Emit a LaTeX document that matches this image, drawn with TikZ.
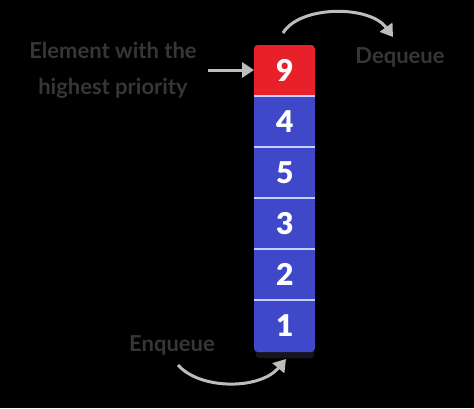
\documentclass[tikz,border=0pt]{standalone}
\usepackage{fontspec}
\setmainfont{Lato}
\newfontfamily\digitfont{Lato Black}
\usetikzlibrary{arrows.meta}
\definecolor{cred}{HTML}{E8202A}
\definecolor{cblue}{HTML}{3F48C8}
\definecolor{csep}{HTML}{C8D0FF}
\definecolor{clabel}{HTML}{363636}
\definecolor{carrow}{HTML}{BDBDBD}
\definecolor{cshadow}{HTML}{14161C}
\tikzset{
  cell/.style={minimum width=61pt, minimum height=51pt, inner sep=0pt, text=white,
     font=\fontsize{30}{30}\selectfont\digitfont},
  lbl/.style={text=clabel, font=\fontsize{22}{36}\selectfont\bfseries, align=center, inner sep=0pt},
  arr/.style={draw=carrow, line width=3pt, -{Triangle[length=12pt,width=15pt]}},
  sepline/.style={draw=csep, line width=1.6pt}
}
\begin{document}
\begin{tikzpicture}[x=1pt,y=-1pt]
\fill[black] (0,0) rectangle (474,408);
\useasboundingbox (0,0) rectangle (474,408);
% shadow
\fill[cshadow, rounded corners=3pt] (256,350) rectangle (314,358);
\begin{scope}
\clip[rounded corners=3.5pt] (254,45) rectangle (315,352);
\node[cell, fill=cred, anchor=north west] (c9) at (254,45) {9};
\node[cell, fill=cblue, anchor=north west] (c4) at (254,96) {4};
\node[cell, fill=cblue, anchor=north west] (c5) at (254,147) {5};
\node[cell, fill=cblue, anchor=north west] (c3) at (254,198) {3};
\node[cell, fill=cblue, anchor=north west] (c2) at (254,249) {2};
\node[cell, fill=cblue, anchor=north west] (c1) at (254,300) {1};
\fill[cblue] (254,351) rectangle (315,353);
\end{scope}
\draw[sepline] (c4.north west) -- (c4.north east);
\draw[sepline] (c5.north west) -- (c5.north east);
\draw[sepline] (c3.north west) -- (c3.north east);
\draw[sepline] (c2.north west) -- (c2.north east);
\draw[sepline] (c1.north west) -- (c1.north east);
% labels
\node[lbl] (elem) at (113,70) {Element with the\\highest priority};
\node[lbl] (deq) at (400,57) {Dequeue};
\node[lbl] (enq) at (172,345) {Enqueue};
% arrows
\coordinate (ea) at (208,70);
\draw[arr] (ea) -- (c9.west |- ea);
\coordinate (ds) at (283,33);
\coordinate (de) at (393,37);
\draw[arr] (ds) .. controls (300,5) and (370,5) .. (de);
\coordinate (es) at (178,365);
\coordinate (ee) at (286,359);
\draw[arr] (es) .. controls (200,390) and (260,390) .. (ee);
\end{tikzpicture}
\end{document}
